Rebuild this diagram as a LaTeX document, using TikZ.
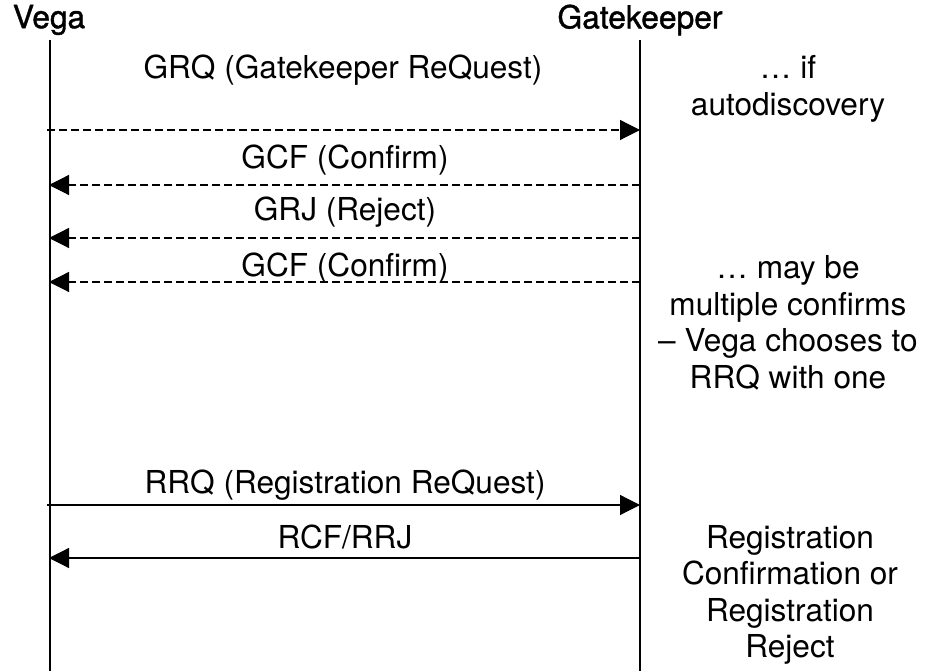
\documentclass[tikz,border=0pt]{standalone}
\usepackage{fontspec}
\setmainfont{TeX Gyre Heros}
\newfontfamily\headfont[FakeBold=1.2]{TeX Gyre Heros}
\usetikzlibrary{arrows.meta}
\begin{document}
\begin{tikzpicture}[>={Triangle[length=20bp,width=20bp]},line join=bevel,
  font=\fontsize{31.6bp}{36.5bp}\selectfont,
  head/.style={draw=none,font=\headfont\fontsize{31.8bp}{36.5bp}\selectfont},
  lifeline/.style={black,line width=1.6bp},
  call/.style={black,->,line width=1.2bp},
  async/.style={call,dash pattern=on 8bp off 4bp},
  note/.style={draw=none,align=center,inner sep=0pt},
]
\useasboundingbox (0bp,0bp) rectangle (926bp,671bp);
%%
\node (node_vega) at (49bp,651bp) [head] {Vega};
  \node (node_gk) at (640bp,651bp) [head] {Gatekeeper};
  \coordinate (vega_top) at (50bp,631bp);
  \coordinate (vega_bot) at (50bp,0bp);
  \coordinate (gk_top) at (640bp,631bp);
  \coordinate (gk_bot) at (640bp,0bp);
  \draw [lifeline] (vega_top) -- (vega_bot);
  \draw [lifeline] (gk_top) -- (gk_bot);
%
\coordinate (v_0) at (47bp,541bp);   \coordinate (g_0) at (640bp,541bp);
  \coordinate (v_1) at (49bp,486bp);   \coordinate (g_1) at (640bp,486bp);
  \coordinate (v_2) at (49bp,433bp);   \coordinate (g_2) at (640bp,433bp);
  \coordinate (v_3) at (49bp,389bp);   \coordinate (g_3) at (640bp,389bp);
  \coordinate (v_4) at (47bp,166bp);   \coordinate (g_4) at (640bp,166bp);
  \coordinate (v_5) at (49bp,113bp);   \coordinate (g_5) at (640bp,113bp);
%
\node (node_grq) at (343bp,601bp) [draw,draw=none] {GRQ (Gatekeeper ReQuest)};
  \node (node_gcf) at (345bp,511bp) [draw,draw=none] {GCF (Confirm)};
  \node (node_grj) at (345bp,459bp) [draw,draw=none] {GRJ (Reject)};
  \node (node_gcf2) at (345bp,403bp) [draw,draw=none] {GCF (Confirm)};
  \node (node_rrq) at (345bp,186bp) [draw,draw=none] {RRQ (Registration ReQuest)};
  \node (node_rcf) at (345bp,134bp) [draw,draw=none] {RCF/RRJ};
  \draw [async] (v_0) -- (g_0);
  \draw [async] (g_1) -- (v_1);
  \draw [async] (g_2) -- (v_2);
  \draw [async] (g_3) -- (v_3);
  \draw [call] (v_4) -- (g_4);
  \draw [call] (g_5) -- (v_5);
%
\node (note_0) at (788bp,582bp) [note] {… if\\autodiscovery};
  \node (note_1) at (788bp,348bp) [note] {… may be\\multiple confirms\\– Vega chooses to\\RRQ with one};
  \node (note_2) at (790bp,76bp) [note] {Registration\\Confirmation or\\Registration\\Reject};
%
\end{tikzpicture}
\end{document}
